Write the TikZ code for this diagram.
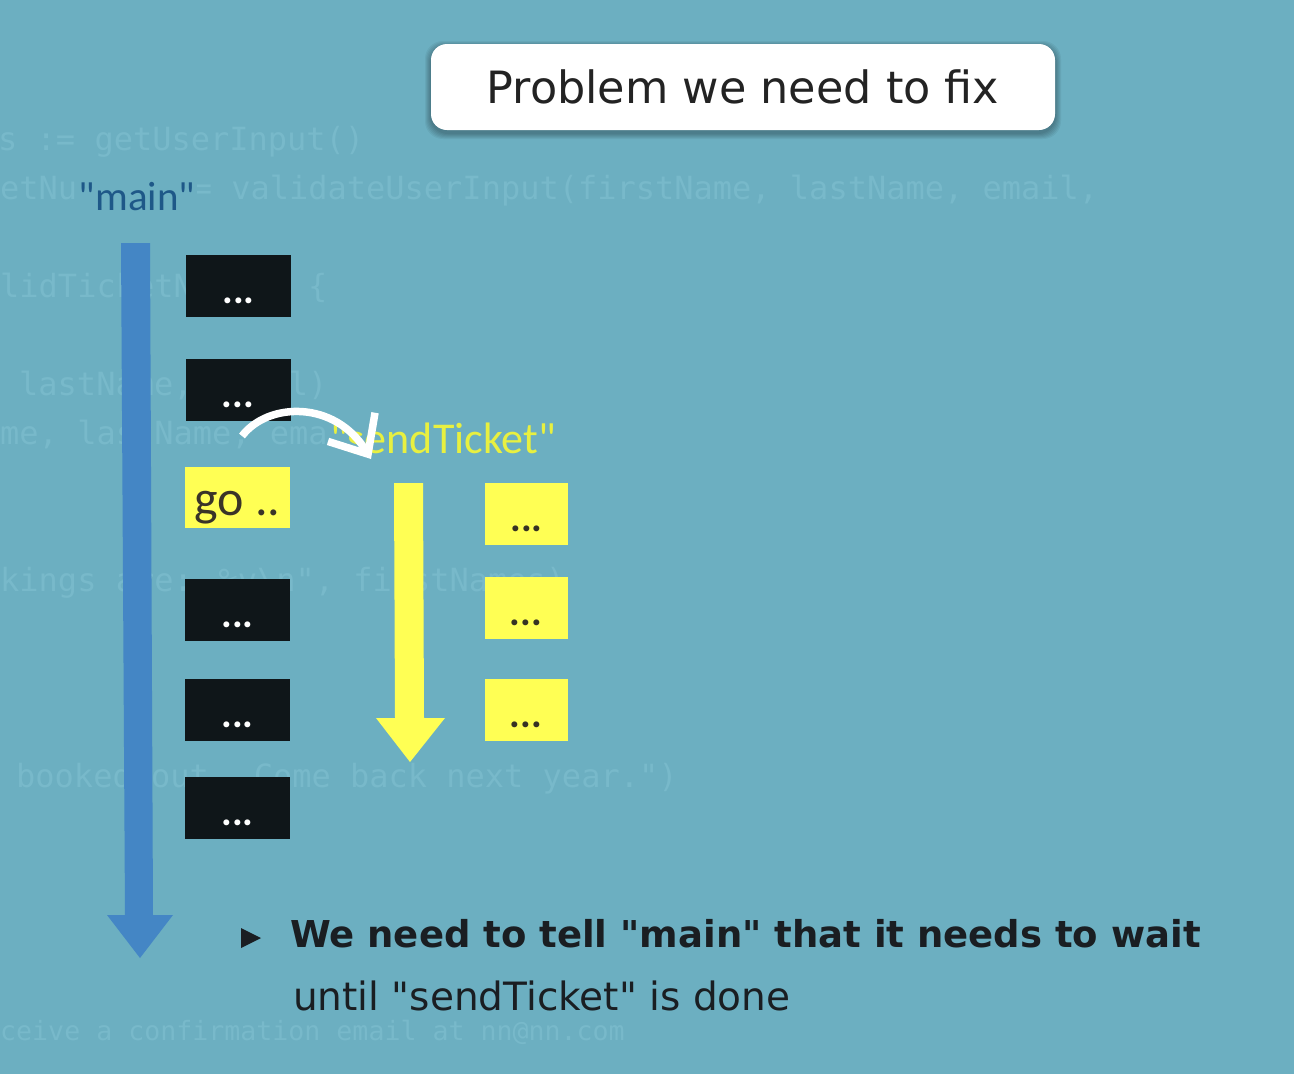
\documentclass[tikz,border=0pt]{standalone}
\usepackage{fontspec}
\newfontfamily\dejavu{DejaVu Sans}
\newfontfamily\carlito{Carlito}
\newfontfamily\codefont{DejaVu Sans Mono}
\usetikzlibrary{arrows.meta}
\definecolor{bg}{RGB}{108,175,193}
\definecolor{ghostc}{RGB}{120,185,202}
\definecolor{mainblue}{RGB}{68,134,197}
\definecolor{labelblue}{RGB}{30,88,136}
\definecolor{ylw}{RGB}{255,255,84}
\definecolor{ylwtext}{RGB}{232,240,64}
\definecolor{boxblack}{RGB}{15,22,25}
\definecolor{darktext}{RGB}{26,30,34}
\definecolor{titletext}{RGB}{35,35,35}
\definecolor{dotdark}{RGB}{55,50,35}
\definecolor{gotext}{RGB}{58,52,40}
\begin{document}
\begin{tikzpicture}[x=1pt,y=-1pt,
  ghost/.style={text=ghostc, anchor=base west, inner sep=0pt, font=\codefont\fontsize{32}{32}\selectfont},
  blackbox/.style={fill=boxblack, text=white, minimum width=105pt, inner sep=0pt,
    text height=48.5pt, text depth=13.5pt, font=\carlito\bfseries\fontsize{40}{40}\selectfont},
  ybox/.style={fill=ylw, text=dotdark, minimum width=83pt, inner sep=0pt,
    text height=48.5pt, text depth=13.5pt, font=\carlito\bfseries\fontsize{40}{40}\selectfont},
  gobox/.style={fill=ylw, text=gotext, minimum width=105pt, inner sep=0pt,
    text height=48pt, text depth=13pt, font=\carlito\fontsize{50}{50}\selectfont},
  titlebox/.style={fill=white, rounded corners=16pt, minimum width=624pt, inner sep=0pt,
    text height=59pt, text depth=27pt, text=titletext, font=\dejavu\fontsize{44.5}{50}\selectfont},
  bodytext/.style={text=darktext, anchor=base west, inner sep=0pt}
]
\useasboundingbox (0,0) rectangle (1294,1074);
\fill[bg] (0,0) rectangle (1294,1074);

% faint code in the background (only the parts left visible)
\node[ghost] (g1) at (-2,150) {s := getUserInput()};
\node[ghost] (g2a) at (0,199) {etNu};
\node[ghost] (g2b) at (192.6,199) {= validateUserInput(firstName, lastName, email, };
\node[ghost] (g3a) at (0,297) {lidTicketN};
\node[ghost] (g3b) at (308,297) {\{};
\node[ghost] (g4a) at (19,395) {lastName,};
\node[ghost] (g4b) at (288.6,395) {l)};
\node[ghost] (g5) at (0,444) {me, lastName, ema};
\node[ghost] (g6) at (0,591) {kings are: \%v\textbackslash n", firstNames)};
\node[ghost] (g7) at (16,787) {booked out. Come back next year.")};
\node[ghost, font=\codefont\fontsize{26.6}{27}\selectfont] (g8) at (0,1040) {ceive a confirmation email at nn@nn.com};

% title box with soft shadow
\foreach \i in {1,...,6}{
  \fill[black, opacity=0.05, rounded corners=18pt] (431-\i,44-\i+3) rectangle (1055+\i,130+\i+3);
}
\node[titlebox] (title) at (743,87) {Problem we need to fix};

% "main" label and timeline
\node[fill=bg, inner sep=2pt, anchor=base, text=labelblue, font=\carlito\fontsize{41}{41}\selectfont] (mainlbl) at (137,210) {"main"};
\fill[mainblue] (121,243) -- (150,243) -- (153,915) -- (173,915) -- (140,958) -- (107,915) -- (125,915) -- cycle;

% main goroutine steps
\node[blackbox] (b1) at (238.5,286) {...};
\node[blackbox] (b2) at (238,390) {...};
\node[gobox] (go) at (237.5,497.5) {go ..};
\node[blackbox] (b3) at (237.5,610) {...};
\node[blackbox] (b4) at (237.5,710) {...};
\node[blackbox] (b5) at (237.5,808) {...};

% "sendTicket" label and timeline
\node[fill=bg, inner sep=2pt, anchor=base east, text=ylwtext, font=\carlito\fontsize{44}{44}\selectfont] (sendlbl) at (558,453) {"sendTicket"};
\fill[ylw] (394,483) -- (423,483) -- (424,718) -- (445,718) -- (410,762) -- (376,718) -- (395,718) -- cycle;

\node[ybox] (y1) at (526.5,514) {...};
\node[ybox] (y2) at (526,608) {...};
\node[ybox] (y3) at (526,710) {...};

% curved white arrow
\coordinate (ws) at (242,436);
\coordinate (we) at (371,459);
\draw[white, line width=7.5pt, -{Straight Barb[angle=82:42pt]}] (ws) .. controls (268,402) and (335,400) .. (we);

% bullet text
\fill[darktext] (241,928) -- (261,938) -- (241,948) -- cycle;
\node[bodytext, font=\dejavu\bfseries\fontsize{37}{40}\selectfont] (line1) at (290,947) {We need to tell "main" that it needs to wait};
\node[bodytext, font=\dejavu\fontsize{39}{40}\selectfont] (line2) at (293,1010) {until "sendTicket" is done};
\end{tikzpicture}
\end{document}
